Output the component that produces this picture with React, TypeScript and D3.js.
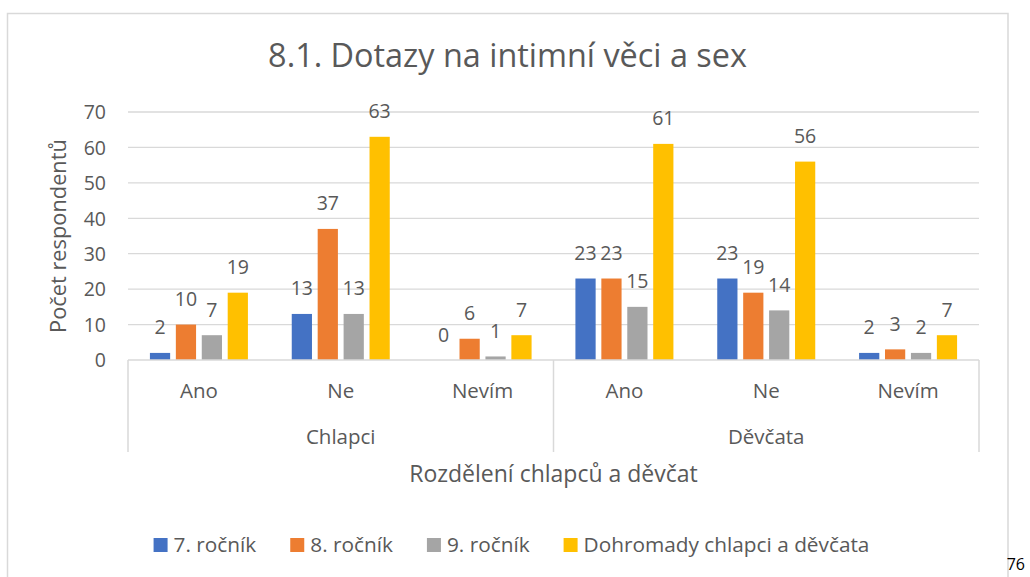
import React, { useEffect, useRef } from "react";
import * as d3 from "d3";

const groups = ["Chlapci", "Děvčata"];
const subCategories = ["Ano", "Ne", "Nevím"];
const seriesNames = ["7. ročník", "8. ročník", "9. ročník", "Dohromady chlapci a děvčata"];
const seriesColors = ["#4472C4", "#ED7D31", "#A5A5A5", "#FFC000"];
const rocnik7 = [2, 13, 0, 23, 23, 2];
const rocnik8 = [10, 37, 6, 23, 19, 3];
const rocnik9 = [7, 13, 1, 15, 14, 2];
const dohromady = [19, 63, 7, 61, 56, 7];
const yTicks = [0, 10, 20, 30, 40, 50, 60, 70];
const title = "8.1. Dotazy na intimní věci a sex";
const xTitle = "Rozdělení chlapců a děvčat";
const yTitle = "Počet respondentů";
const pageNumber = "76";

const W = 1030;
const H = 577;
const FONT = "'Open Sans', sans-serif";
const TXT = "#595959";
const GRID = "#D9D9D9";

export default function App() {
  const ref = useRef<SVGSVGElement | null>(null);
  useEffect(() => {
    const svg = d3.select(ref.current);
    svg.selectAll("*").remove();
    const series = [rocnik7, rocnik8, rocnik9, dohromady];
    const cats: string[] = [];
    groups.forEach((g) => subCategories.forEach((s) => cats.push(g + "|" + s)));

    const left = 128, right = 979, top = 112, bottom = 360;
    const x0 = d3.scaleBand<string>().domain(cats).range([left, right]).padding(0);
    const xs = d3.scaleBand<number>().domain(d3.range(series.length)).range([-49, 49]).paddingInner(0.22).paddingOuter(0);
    const y = d3.scaleLinear().domain([0, 70]).range([bottom, top]);

    // chart border
    svg.append("rect").attr("x", 7.5).attr("y", 13.5).attr("width", 1000.5).attr("height", 600)
      .attr("fill", "white").attr("stroke", GRID).attr("stroke-width", 1.5);

    // title
    svg.append("text").attr("x", 507.5).attr("y", 67).attr("text-anchor", "middle")
      .attr("font-family", FONT).attr("font-size", 32.4).attr("fill", TXT).text(title);

    // gridlines
    svg.append("g").selectAll("line").data(yTicks.filter((t) => t > 0)).join("line")
      .attr("x1", left).attr("x2", right).attr("y1", (d) => y(d)).attr("y2", (d) => y(d))
      .attr("stroke", GRID).attr("stroke-width", 1.3);

    // y tick labels
    svg.append("g").selectAll("text").data(yTicks).join("text")
      .attr("x", 106).attr("y", (d) => y(d)).attr("dy", "0.37em").attr("text-anchor", "end")
      .attr("font-family", FONT).attr("font-size", 19.5).attr("fill", TXT).text((d) => String(d));

    // bars
    series.forEach((vals, si) => {
      svg.append("g").selectAll("rect").data(vals).join("rect")
        .attr("x", (_, i) => (x0(cats[i]) as number) + x0.bandwidth() / 2 + (xs(si) as number))
        .attr("width", xs.bandwidth())
        .attr("y", (d) => y(d)).attr("height", (d) => bottom - y(d))
        .attr("fill", seriesColors[si]);
      svg.append("g").selectAll("text").data(vals).join("text")
        .attr("x", (_, i) => (x0(cats[i]) as number) + x0.bandwidth() / 2 + (xs(si) as number) + xs.bandwidth() / 2)
        .attr("y", (d) => y(d) - 18.5).attr("text-anchor", "middle")
        .attr("font-family", FONT).attr("font-size", 19.5).attr("fill", TXT).text((d) => String(d));
    });

    // axis lines
    svg.append("line").attr("x1", left).attr("x2", right).attr("y1", bottom).attr("y2", bottom)
      .attr("stroke", GRID).attr("stroke-width", 1.5);
    const groupEdges = [left, (x0(cats[3]) as number), right];
    svg.append("g").selectAll("line").data(groupEdges).join("line")
      .attr("x1", (d) => d).attr("x2", (d) => d).attr("y1", bottom).attr("y2", 452)
      .attr("stroke", GRID).attr("stroke-width", 1.5);

    // category labels
    svg.append("g").selectAll("text").data(cats).join("text")
      .attr("x", (d) => (x0(d) as number) + x0.bandwidth() / 2).attr("y", 398).attr("text-anchor", "middle")
      .attr("font-family", FONT).attr("font-size", 20.5).attr("fill", TXT).text((d) => d.split("|")[1]);
    svg.append("g").selectAll("text").data(groups).join("text")
      .attr("x", (_, i) => (groupEdges[i] + groupEdges[i + 1]) / 2).attr("y", 444).attr("text-anchor", "middle")
      .attr("font-family", FONT).attr("font-size", 20.5).attr("fill", TXT).text((d) => d);

    // axis titles
    svg.append("text").attr("x", (left + right) / 2).attr("y", 482).attr("text-anchor", "middle")
      .attr("font-family", FONT).attr("font-size", 23).attr("fill", TXT).text(xTitle);
    svg.append("text").attr("transform", `translate(66,236) rotate(-90)`).attr("text-anchor", "middle")
      .attr("font-family", FONT).attr("font-size", 21.8).attr("fill", TXT).text(yTitle);

    // legend
    const lg = svg.append("g");
    const items = seriesNames.map((name, i) => {
      const g = lg.append("g");
      g.append("rect").attr("width", 14).attr("height", 14).attr("y", -14).attr("fill", seriesColors[i]);
      const t = g.append("text").attr("x", 20).attr("y", 0).attr("font-family", FONT)
        .attr("font-size", 20.8).attr("fill", TXT).text(name);
      const w = (t.node() as SVGTextElement).getComputedTextLength();
      return { g, w: 20 + w };
    });
    const gap = 34;
    const total = d3.sum(items, (d) => d.w) + gap * (items.length - 1);
    let cx = 511.5 - total / 2;
    items.forEach((it) => {
      it.g.attr("transform", `translate(${cx},552)`);
      cx += it.w + gap;
    });

    // page number
    svg.append("text").attr("x", 1025).attr("y", 570).attr("text-anchor", "end")
      .attr("font-family", "'Open Sans', sans-serif")
      .attr("font-size", 16).attr("fill", "#000").text(pageNumber);
  }, []);
  return (
    <svg ref={ref} width={W} height={H} style={{ position: "absolute", left: 0, top: 0, background: "white" }} />
  );
}
